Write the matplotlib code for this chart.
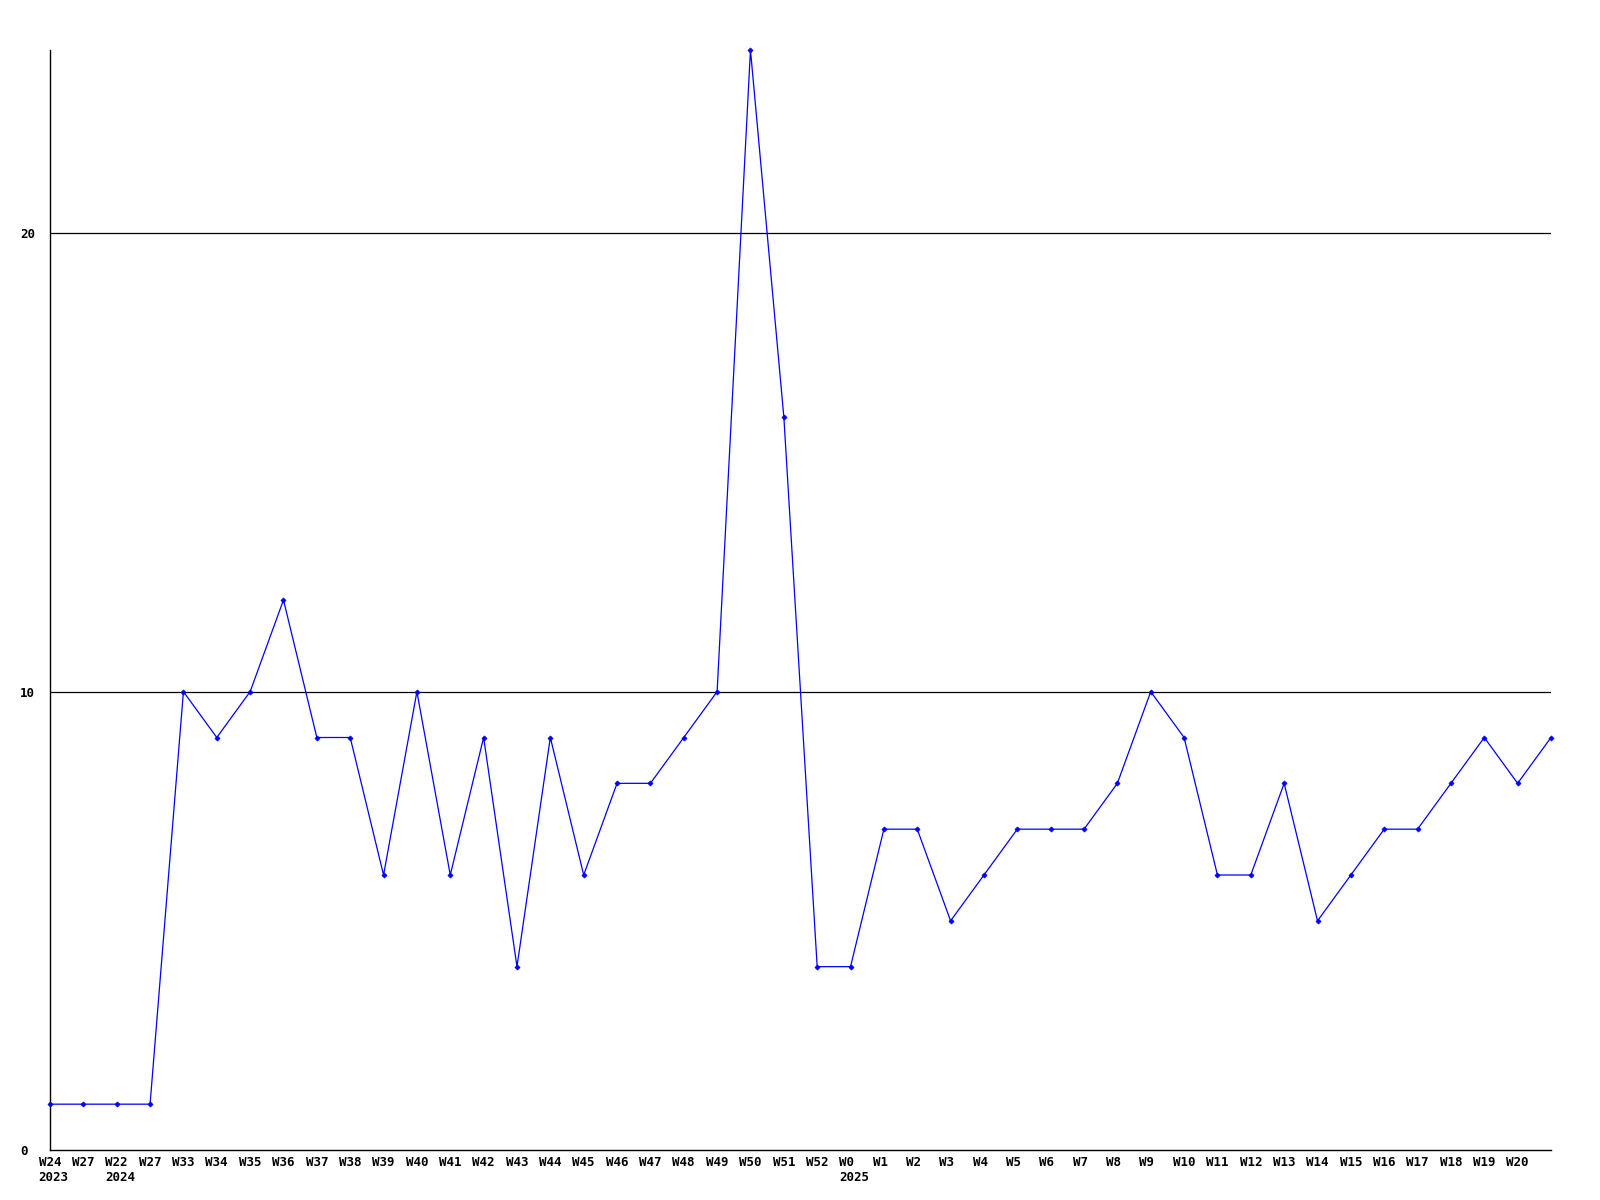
import matplotlib
matplotlib.use("Agg")
import matplotlib.pyplot as plt
import matplotlib.transforms as mtransforms

weeks = ["W24", "W27", "W22", "W27", "W33", "W34", "W35", "W36", "W37", "W38",
         "W39", "W40", "W41", "W42", "W43", "W44", "W45", "W46", "W47", "W48",
         "W49", "W50", "W51", "W52", "W0", "W1", "W2", "W3", "W4", "W5",
         "W6", "W7", "W8", "W9", "W10", "W11", "W12", "W13", "W14", "W15",
         "W16", "W17", "W18", "W19", "W20", ""]
values = [1, 1, 1, 1, 10, 9, 10, 12, 9, 9,
          6, 10, 6, 9, 4, 9, 6, 8, 8, 9,
          10, 24, 16, 4, 4, 7, 7, 5, 6, 7,
          7, 7, 8, 10, 9, 6, 6, 8, 5, 6,
          7, 7, 8, 9, 8, 9]
year_labels = {0: "2023", 2: "2024", 24: "2025"}
y_ticks = [0, 10, 20]

FONT = "DejaVu Sans Mono"
FS = 9

fig = plt.figure(figsize=(16, 12), dpi=100)
ax = fig.add_axes([50 / 1600, 1 - 1150 / 1200, (1551 - 50) / 1600, (1150 - 50) / 1200])

x = list(range(len(values)))
for t in y_ticks[1:]:
    ax.axhline(t, color="black", linewidth=0.9, zorder=1)
ax.plot(x, values, color="#0000ff", linewidth=0.9, marker="D", markersize=2.6,
        markeredgewidth=0.5, zorder=3, clip_on=False)

ax.set_xlim(0, len(values) - 1)
ax.set_ylim(0, 24)
for s in ("top", "right"):
    ax.spines[s].set_visible(False)
for s in ("left", "bottom"):
    ax.spines[s].set_color("black")
    ax.spines[s].set_linewidth(1.0)

char_w = 0.602 * FS  # points
shift = -1.5 * char_w / 72.0  # inches

ax.set_xticks(x)
ax.set_xticklabels(weeks, fontfamily=FONT, fontweight="bold", fontsize=FS, ha="left")
ax.tick_params(axis="x", length=0, pad=4)
offset = mtransforms.ScaledTranslation(shift, 0, fig.dpi_scale_trans)
for lab in ax.get_xticklabels():
    lab.set_transform(lab.get_transform() + offset)

ax.set_yticks(y_ticks)
ax.set_yticklabels([str(t) for t in y_ticks], fontfamily=FONT, fontweight="bold",
                   fontsize=FS, ha="left")
ax.tick_params(axis="y", length=0, pad=21.6)

for i, yl in year_labels.items():
    ax.annotate(yl, xy=(i, 0), xycoords=("data", "axes fraction"),
                xytext=(-1.5 * char_w, -15.0), textcoords="offset points",
                ha="left", va="top", fontfamily=FONT, fontweight="bold", fontsize=FS)

fig.savefig("out.png", dpi=100)
